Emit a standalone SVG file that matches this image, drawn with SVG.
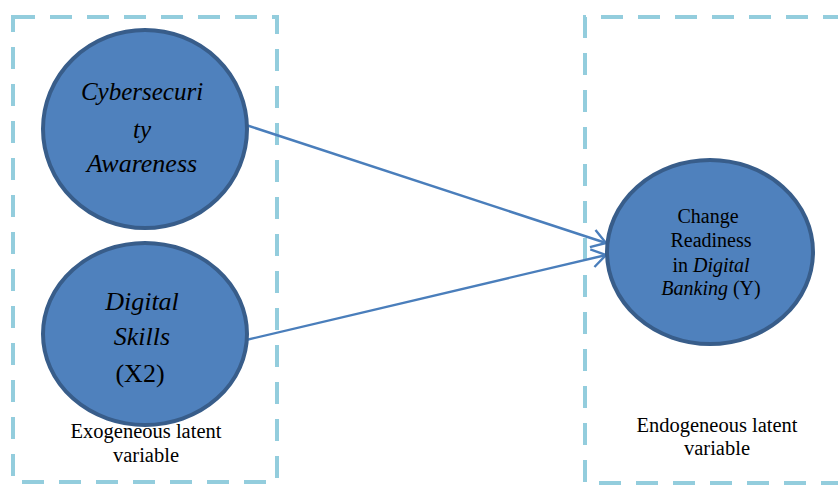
<svg xmlns="http://www.w3.org/2000/svg" width="838" height="487" viewBox="0 0 838 487">
<style>
.box{fill:none;stroke:#93CDDD;stroke-width:4;stroke-dasharray:22 15}
.node{fill:#4F81BD;stroke:#385D8A;stroke-width:4}
.t{font-family:'Liberation Serif','Times New Roman','DejaVu Serif',serif;fill:#000;text-anchor:middle}
.i{font-style:italic}
.conn{stroke:#4A7EBB;stroke-width:2.4;fill:none}
</style>
<defs>
<marker id="arr" markerUnits="userSpaceOnUse" markerWidth="30" markerHeight="30" refX="16" refY="10" orient="auto" viewBox="0 0 30 20">
<path d="M2,1 L16,10 L2,19" fill="none" stroke="#4A7EBB" stroke-width="2.4"/>
</marker>
</defs>
<rect x="0" y="0" width="838" height="487" fill="#fff"/>
<g id="exogenous-box">
<path class="box" d="M13,17 H277 V482 H13 Z"/>
<text class="t" x="146" y="438" font-size="20.5">Exogeneous latent</text>
<text class="t" x="146" y="462" font-size="20.5">variable</text>
</g>
<g id="endogenous-box">
<path class="box" d="M845,17 H585 V483 H845"/>
<text class="t" x="717" y="432" font-size="20.5">Endogeneous latent</text>
<text class="t" x="717" y="455" font-size="20.5">variable</text>
</g>
<g id="connectors">
<line class="conn" x1="246" y1="125" x2="606" y2="243" marker-end="url(#arr)"/>
<line class="conn" x1="246" y1="340" x2="606" y2="255" marker-end="url(#arr)"/>
</g>
<g id="cybersecurity-awareness">
<ellipse class="node" cx="145" cy="129" rx="102" ry="99"/>
<text class="t i" x="142" y="100" font-size="25">Cybersecuri</text>
<text class="t i" x="142" y="138" font-size="25">ty</text>
<text class="t i" x="142" y="172" font-size="26">Awareness</text>
</g>
<g id="digital-skills">
<ellipse class="node" cx="145" cy="334" rx="102" ry="91"/>
<text class="t i" x="142" y="310" font-size="26">Digital</text>
<text class="t i" x="142" y="345" font-size="26">Skills</text>
<text class="t" x="140" y="382" font-size="26">(X2)</text>
</g>
<g id="change-readiness">
<ellipse class="node" cx="710" cy="252" rx="103" ry="92"/>
<text class="t" x="708" y="223" font-size="20">Change</text>
<text class="t" x="711" y="247" font-size="20">Readiness</text>
<text class="t" x="711" y="272" font-size="20">in <tspan class="i">Digital</tspan></text>
<text class="t" x="711" y="295" font-size="20"><tspan class="i">Banking</tspan>  (Y)</text>
</g>
</svg>
